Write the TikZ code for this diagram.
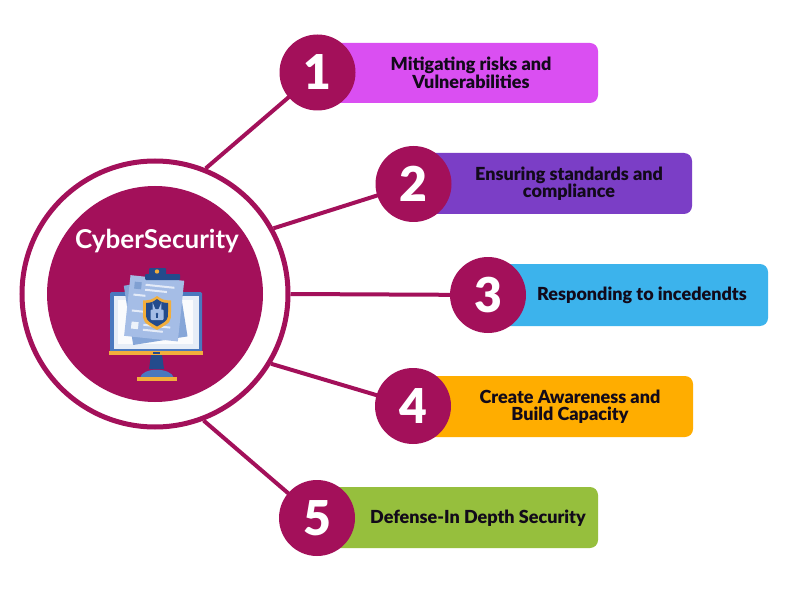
\documentclass[tikz,border=0pt]{standalone}
\usepackage{fontspec}
\setmainfont{Lato}
\newfontfamily\heavy{Lato Black}
\definecolor{mag}{HTML}{A3105A}
\definecolor{cA}{HTML}{DA4FF2}
\definecolor{cB}{HTML}{7B3EC6}
\definecolor{cC}{HTML}{3CB3EC}
\definecolor{cD}{HTML}{FFAD00}
\definecolor{cE}{HTML}{96BF3D}
\definecolor{frameblue}{HTML}{4A78BE}
\definecolor{dkblue}{HTML}{234B8C}
\definecolor{screen}{HTML}{E6EDF7}
\definecolor{docback}{HTML}{86A6D8}
\definecolor{docfront}{HTML}{A5BDE6}
\definecolor{gold}{HTML}{F2AE3C}
\definecolor{txt}{HTML}{120A1A}
\begin{document}
\begin{tikzpicture}[x=1pt,y=-1pt,
  numc/.style={circle,fill=mag,minimum size=76pt,inner sep=0pt,text=white,
    font=\fontsize{48}{48}\selectfont\heavy},
  boxshape/.style={rounded corners=8pt},
  lbl/.style={align=center,text=txt,font=\fontsize{18}{17.5}\selectfont\heavy},
  conn/.style={draw=mag,line width=4pt}]
\useasboundingbox (0,0) rectangle (788,591);
\fill[white] (0,0) rectangle (788,591);

% central ring
\node[circle,draw=mag,line width=5pt,fill=white,minimum size=266pt,inner sep=0pt] (ring) at (155,294) {};
\fill[mag] (ring.center) circle (108);

% connectors
\coordinate (p1) at (317.5,72.5);
\coordinate (p2) at (413.5,184);
\coordinate (p3) at (488,295);
\coordinate (p4) at (413,406);
\coordinate (p5) at (317,518);
\draw[conn] (ring.68) -- (p1);
\draw[conn] (ring.29.5) -- (p2);
\draw[conn] (ring.0) -- (p3);
\draw[conn] (ring.-31) -- (p4);
\draw[conn] (ring.-69) -- (p5);

% boxes
\fill[cA,boxshape] (317.5,43) rectangle (598,103);
\fill[cB,boxshape] (413.5,153) rectangle (692,214);
\fill[cC,boxshape] (488,264) rectangle (768,326);
\fill[cD,boxshape] (413,376) rectangle (693,437);
\fill[cE,boxshape] (317,487) rectangle (598,548);

% number circles
\node[numc] (n1) at (p1) {1};
\node[numc] (n2) at (p2) {2};
\node[numc] (n3) at (p3) {3};
\node[numc] (n4) at (p4) {4};
\node[numc] (n5) at (p5) {5};

% labels
\node[lbl] (t1) at (471,73) {Mitigating risks and\\Vulnerabilities};
\node[lbl] (t2) at (569,183.5) {Ensuring standards and\\compliance};
\node[lbl] (t3) at (642,295) {Responding to incedendts};
\node[lbl] (t4) at (570,406.5) {Create Awareness and\\Build Capacity};
\node[lbl] (t5) at (478,518) {Defense-In Depth Security};

% center title
\node[text=white,font=\fontsize{26}{26}\selectfont\bfseries] (title) at (157,241) {CyberSecurity};

% icon: monitor
\fill[frameblue,rounded corners=1.5pt] (110,292) rectangle (202,353);
\fill[screen] (113.5,295.5) rectangle (198.5,349);
\fill[white!80!screen] (118,300) rectangle (193,344);
\fill[gold] (109,351) rectangle (203,355);
\fill[dkblue] (153,351.5) rectangle (160,353.5);
% stand
\fill[dkblue] (151,355) -- (162,355) -- (164,369) -- (149,369) -- cycle;
\fill[frameblue] (140,378) .. controls (142,367) and (171,367) .. (174,378) -- cycle;
\fill[gold] (137,377) rectangle (177,381);
% documents
\fill[docback,rotate around={9:(156,310)}] (128,281) rectangle (183,341);
\fill[docfront,rotate around={-6:(156,310)}] (127,278) rectangle (181,339);
\begin{scope}[rotate around={-6:(156,310)}]
  \fill[frameblue!70] (132,284) rectangle (139,291);
  \fill[white!70!docfront] (143,285) rectangle (172,287);
  \fill[white!70!docfront] (143,290) rectangle (165,292);
  \fill[white!70!docfront] (132,296) rectangle (144,298);
  \fill[white!70!docfront] (132,312) rectangle (144,314);
  \fill[white!80!docfront] (133,324) rectangle (140,331);
  \fill[white!70!docfront] (145,325) rectangle (172,327);
  \fill[white!70!docfront] (145,330) rectangle (165,332);
\end{scope}
% clip
\fill[dkblue,rounded corners=1pt] (149,268) rectangle (166,277);
\fill[dkblue,rounded corners=1pt] (145,274) rectangle (180,280);
\fill[gold] (157,271.5) circle (2.2);
% shield
\fill[gold] (157,296) .. controls (151,300) .. (143,300.5) -- (143,312)
  .. controls (143,322) .. (157,330) .. controls (171,322) .. (171,312)
  -- (171,300.5) .. controls (163,300) .. cycle;
\fill[dkblue] (157,299) .. controls (152,302.5) .. (146,303) -- (146,312)
  .. controls (146,320) .. (157,326.5) .. controls (168,320) .. (168,312)
  -- (168,303) .. controls (162,302.5) .. cycle;
% lock
\draw[docfront,line width=1.8pt] (153.5,310) -- (153.5,307) arc[start angle=180,end angle=0,radius=3.5] -- (160.5,310);
\fill[docfront,rounded corners=1pt] (150.5,309.5) rectangle (163.5,320);
\fill[dkblue] (157,314) circle (1.3);
\fill[dkblue] (156.4,314) rectangle (157.6,317.5);
\end{tikzpicture}
\end{document}
